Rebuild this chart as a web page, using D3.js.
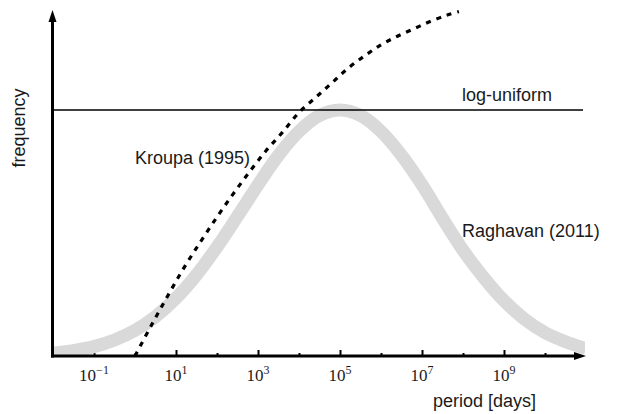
<!DOCTYPE html>
<html>
<head>
<meta charset="utf-8">
<script src="https://cdn.jsdelivr.net/npm/d3@7"></script>
<style>
  html, body { margin: 0; padding: 0; background: #fff; }
  svg { display: block; }
  .lbl { font-family: "Liberation Sans", Arial, sans-serif; font-size: 18px; fill: #1a1a1a; }
  .tick-lbl { font-family: "Liberation Serif", "Times New Roman", serif; font-size: 17px; fill: #1a1a1a; }
</style>
</head>
<body>
<svg id="chart" width="620" height="414"></svg>
<script>
// Orbital period distributions (log10 of period in days vs. relative frequency)

// Raghavan (2011) log-normal shape
const raghavanExp  = [-2, -1.5, -1, -0.5, 0, 0.5, 1, 1.5, 2, 2.5, 3, 3.5, 4, 4.5, 5,
                      5.5, 6, 6.5, 7, 7.5, 8, 8.5, 9, 9.5, 10, 10.5, 11];
const raghavanFreq = [0.012, 0.022, 0.038, 0.065, 0.104, 0.160, 0.235, 0.330, 0.443, 0.568, 0.696, 0.816, 0.913, 0.978, 1.0,
                      0.978, 0.913, 0.816, 0.696, 0.560, 0.430, 0.320, 0.225, 0.150, 0.095, 0.058, 0.030];

// Kroupa (1995)
const kroupaExp  = [0, 0.4, 0.8, 1.2, 1.6, 2.0, 2.4, 2.8, 3.2, 3.6, 4.0, 4.4, 4.8, 5.2, 5.6, 6.0, 6.4, 6.8, 7.2, 7.6, 7.9];
const kroupaFreq = [0, 0.125, 0.245, 0.36, 0.465, 0.565, 0.66, 0.75, 0.835, 0.91, 0.99, 1.05, 1.11, 1.17, 1.22, 1.265, 1.30, 1.33, 1.36, 1.385, 1.40];

// log-uniform reference level
const logUniformFreq = 1.0;

// axis ticks (exponents of ten)
const tickExp  = [-1, 0, 1, 2, 3, 4, 5, 6, 7, 8, 9, 10];
const labelExp = [-1, 1, 3, 5, 7, 9];

const xDomain = [1e-2, 1e11];
const yMax = 1.4065;

const svg = d3.select("#chart");
const x = d3.scaleLog().domain(xDomain).range([53, 586]);
const y = d3.scaleLinear().domain([0, yMax]).range([356, 10]);

const defs = svg.append("defs");
defs.append("clipPath").attr("id", "plot-clip")
  .append("rect")
  .attr("x", x(xDomain[0])).attr("y", 0)
  .attr("width", x(xDomain[1]) - x(xDomain[0]) - 1)
  .attr("height", y(0));

// axis ticks along the bottom
const axisG = svg.append("g").attr("transform", `translate(0,${y(0)})`);
const xAxis = d3.axisTop(x)
  .tickValues(tickExp.map(e => Math.pow(10, e)))
  .tickSize(0)
  .tickFormat("");
axisG.call(xAxis);
axisG.select(".domain").remove();
axisG.selectAll(".tick line")
  .attr("stroke", "#000")
  .attr("stroke-width", 2)
  .attr("y2", (d) => labelExp.includes(Math.round(Math.log10(d))) ? -6 : -3);

// tick labels 10^n
const lab = svg.append("g").selectAll("text")
  .data(labelExp).join("text")
  .attr("class", "tick-lbl")
  .attr("x", d => x(Math.pow(10, d)))
  .attr("y", 381)
  .attr("text-anchor", "middle");
lab.append("tspan").text("10");
lab.append("tspan")
  .attr("dy", -7)
  .attr("font-size", 12)
  .text(d => d < 0 ? "\u2212" + Math.abs(d) : String(d));

// Raghavan band
const line = d3.line()
  .x(d => x(Math.pow(10, d[0])))
  .y(d => y(d[1]))
  .curve(d3.curveCatmullRom.alpha(0.5));

svg.append("path")
  .attr("clip-path", "url(#plot-clip)")
  .datum(raghavanExp.map((e, i) => [e, raghavanFreq[i]]))
  .attr("d", line)
  .attr("fill", "none")
  .attr("stroke", "#d9d9d9")
  .attr("stroke-width", 13);

// log-uniform level
svg.append("line")
  .attr("x1", x(xDomain[0])).attr("x2", 583)
  .attr("y1", y(logUniformFreq)).attr("y2", y(logUniformFreq))
  .attr("stroke", "#000")
  .attr("stroke-width", 1.5);

// Kroupa dotted curve
svg.append("path")
  .datum(kroupaExp.map((e, i) => [e, kroupaFreq[i]]))
  .attr("d", line)
  .attr("fill", "none")
  .attr("stroke", "#000")
  .attr("stroke-width", 3.2)
  .attr("stroke-dasharray", "5,6");

// axes with arrow heads
const x0 = x(xDomain[0]) - 0.5;
const y0 = y(0);
svg.append("line")
  .attr("x1", x0).attr("x2", x0)
  .attr("y1", y0 + 1.5).attr("y2", 20)
  .attr("stroke", "#000").attr("stroke-width", 3);
svg.append("path")
  .attr("d", `M${x0},10 L${x0 - 4},22 L${x0 + 4},22 Z`)
  .attr("fill", "#000");
svg.append("line")
  .attr("x1", x0 - 1.5).attr("x2", 577)
  .attr("y1", y0).attr("y2", y0)
  .attr("stroke", "#000").attr("stroke-width", 3);
svg.append("path")
  .attr("d", `M586,${y0} L574,${y0 - 4} L574,${y0 + 4} Z`)
  .attr("fill", "#000");

// labels
svg.append("text").attr("class", "lbl")
  .attr("transform", "translate(25,128) rotate(-90)")
  .attr("text-anchor", "middle")
  .text("frequency");
svg.append("text").attr("class", "lbl")
  .attr("x", 433).attr("y", 407)
  .text("period [days]");
svg.append("text").attr("class", "lbl")
  .attr("x", 462).attr("y", 101)
  .text("log-uniform");
svg.append("text").attr("class", "lbl")
  .attr("x", 135).attr("y", 164)
  .text("Kroupa (1995)");
svg.append("text").attr("class", "lbl")
  .attr("x", 462).attr("y", 237)
  .text("Raghavan (2011)");
</script>
</body>
</html>
